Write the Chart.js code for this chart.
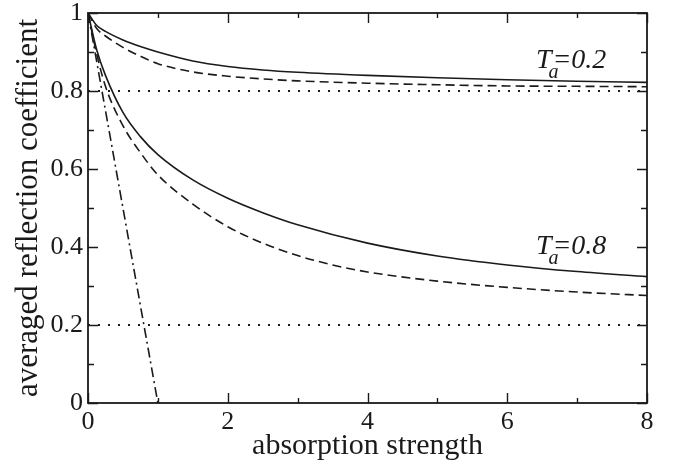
<!DOCTYPE html>
<html><head><meta charset="utf-8">
<script src="https://cdn.jsdelivr.net/npm/chart.js@4"></script>
<style>html,body{margin:0;padding:0;background:#fff}</style>
</head><body>
<canvas id="c" width="674" height="465"></canvas>
<script>
// ---- data ----
const upperSolidX = [0, 0.125, 0.25, 0.5, 0.75, 1, 1.5, 2, 2.5, 3, 4, 5, 6, 7, 8];
const upperSolidY = [1, 0.968, 0.953, 0.931, 0.914, 0.9, 0.877, 0.863, 0.854, 0.848, 0.84, 0.834, 0.829, 0.825, 0.822];
const upperDashX = [0, 0.125, 0.25, 0.5, 0.75, 1, 1.5, 2, 2.5, 3, 4, 5, 6, 7, 8];
const upperDashY = [1, 0.96, 0.941, 0.912, 0.889, 0.87, 0.849, 0.838, 0.831, 0.826, 0.82, 0.816, 0.813, 0.812, 0.811];
const lowerSolidX = [0, 0.125, 0.25, 0.5, 0.75, 1, 1.5, 2, 2.5, 3, 4, 5, 6, 7, 8];
const lowerSolidY = [1, 0.905, 0.84, 0.745, 0.683, 0.637, 0.572, 0.525, 0.488, 0.457, 0.41, 0.377, 0.354, 0.337, 0.324];
const lowerDashX = [0, 0.125, 0.25, 0.5, 0.75, 1, 1.5, 2, 2.5, 3, 3.5, 4, 5, 6, 7, 8];
const lowerDashY = [1, 0.895, 0.812, 0.711, 0.642, 0.585, 0.51, 0.452, 0.41, 0.378, 0.354, 0.336, 0.3125, 0.2965, 0.2845, 0.2755];
const dashDotX = [0, 1];
const dashDotY = [1, 0];
const limitX = [0, 8];
const limitHighY = [0.8, 0.8];
const limitLowY = [0.2, 0.2];
const xMajorTicks = [0, 2, 4, 6, 8];
const xTickLabels = ['0', '2', '4', '6', '8'];
const xMinorTicks = [1, 3, 5, 7];
const yMajorTicks = [0, 0.2, 0.4, 0.6, 0.8, 1];
const yTickLabels = ['0', '0.2', '0.4', '0.6', '0.8', '1'];
const yMinorTicks = [0.1, 0.3, 0.5, 0.7, 0.9];
const curveLabels = [
  {main: 'T', sub: 'a', rest: '=0.2', x: 6.41, y: 0.859},
  {main: 'T', sub: 'a', rest: '=0.8', x: 6.41, y: 0.381}
];
const xTitle = 'absorption strength';
const yTitle = 'averaged reflection coefficient';

// ---- chart ----
const INK = '#1a1a1a';
const SERIF = '"Liberation Serif", "DejaVu Serif", serif';
const pts = (xs, ys) => xs.map((x, i) => ({x, y: ys[i]}));
const line = (xs, ys, dash, w) => ({
  data: pts(xs, ys), borderColor: INK, borderWidth: w || 1.6, borderDash: dash || [],
  pointRadius: 0, fill: false, cubicInterpolationMode: 'monotone', borderCapStyle: 'butt'
});

const frameTicks = {
  id: 'frameTicks',
  afterDatasetsDraw(chart) {
    const {ctx, chartArea: a, scales: {x, y}} = chart;
    ctx.save();
    ctx.strokeStyle = INK;
    ctx.lineWidth = 1.4;
    ctx.beginPath();
    const tx = (v, len) => {
      const p = Math.round(x.getPixelForValue(v)) + 0.5;
      ctx.moveTo(p, a.bottom); ctx.lineTo(p, a.bottom - len);
      ctx.moveTo(p, a.top); ctx.lineTo(p, a.top + len);
    };
    const ty = (v, len) => {
      const p = Math.round(y.getPixelForValue(v)) + 0.5;
      ctx.moveTo(a.left, p); ctx.lineTo(a.left + len, p);
      ctx.moveTo(a.right, p); ctx.lineTo(a.right - len, p);
    };
    xMajorTicks.forEach(v => tx(v, 10));
    xMinorTicks.forEach(v => tx(v, 5));
    yMajorTicks.forEach(v => ty(v, 10));
    yMinorTicks.forEach(v => ty(v, 6));
    ctx.stroke();
    ctx.lineWidth = 1.8;
    ctx.strokeRect(a.left, a.top, a.right - a.left, a.bottom - a.top);
    // curve labels
    ctx.fillStyle = INK;
    ctx.textBaseline = 'alphabetic';
    curveLabels.forEach(l => {
      const px = x.getPixelForValue(l.x), py = y.getPixelForValue(l.y);
      ctx.font = 'italic 28px ' + SERIF;
      ctx.fillText(l.main, px, py);
      const wT = ctx.measureText(l.main).width;
      ctx.fillText(l.rest, px + wT + 1, py);
      ctx.font = 'italic 20px ' + SERIF;
      ctx.fillText(l.sub, px + wT - 3, py + 10);
    });
    ctx.restore();
  }
};

new Chart(document.getElementById('c'), {
  type: 'line',
  data: {
    datasets: [
      line(limitX, limitHighY, [2, 8], 2),
      line(limitX, limitLowY, [2, 8], 2),
      line(upperSolidX, upperSolidY),
      line(upperDashX, upperDashY, [9, 5]),
      line(lowerSolidX, lowerSolidY),
      line(lowerDashX, lowerDashY, [9, 5]),
      line(dashDotX, dashDotY, [10, 4, 2, 4])
    ]
  },
  options: {
    responsive: false, animation: false, devicePixelRatio: 1,
    layout: {padding: {left: 0, right: 27, top: 13, bottom: 0}},
    plugins: {legend: {display: false}, tooltip: {enabled: false}},
    scales: {
      x: {
        type: 'linear', min: 0, max: 8,
        grid: {display: false, drawTicks: false},
        border: {display: false},
        afterBuildTicks: s => { s.ticks = xMajorTicks.map(v => ({value: v})); },
        ticks: {color: INK, font: {family: SERIF, size: 26}, padding: 4, maxRotation: 0,
                callback: (v, i) => xTickLabels[i]},
        title: {display: true, text: xTitle, color: INK, font: {family: SERIF, size: 30}, padding: {top: 0, bottom: 1}},
        afterFit: s => { s.height = 62; s.paddingLeft = 0; s.paddingRight = 0; }
      },
      y: {
        type: 'linear', min: 0, max: 1,
        grid: {display: false, drawTicks: false},
        border: {display: false},
        afterBuildTicks: s => { s.ticks = yMajorTicks.map(v => ({value: v})); },
        ticks: {color: INK, font: {family: SERIF, size: 26}, padding: 5,
                callback: (v, i) => yTickLabels[i]},
        title: {display: true, text: yTitle, color: INK, font: {family: SERIF, size: 31}, padding: {top: 10, bottom: 0}},
        afterFit: s => { s.width = 88; s.paddingTop = 0; s.paddingBottom = 0; }
      }
    }
  },
  plugins: [frameTicks]
});
</script>
</body></html>
